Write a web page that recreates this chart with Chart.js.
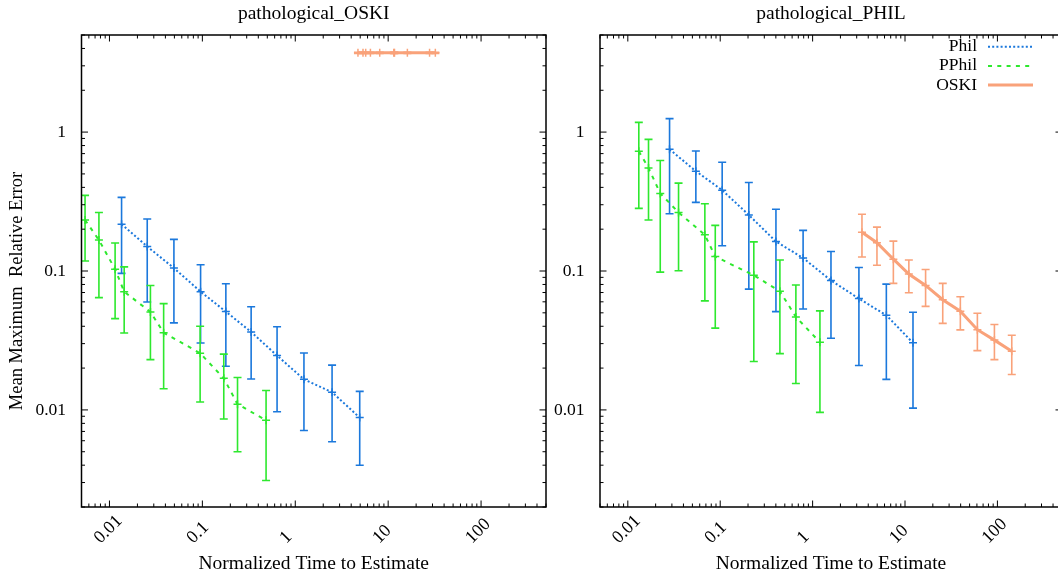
<!DOCTYPE html>
<html><head><meta charset="utf-8">
<script src="https://cdn.jsdelivr.net/npm/chart.js@4/dist/chart.umd.min.js"></script>
<style>
html,body{margin:0;padding:0;background:#fff;overflow:hidden;width:1058px;height:576px;}
.wrap{position:absolute;top:0;height:576px;width:560px;}
</style></head><body>
<div class="wrap" style="left:0"><canvas id="c1" width="560" height="576"></canvas></div>
<div class="wrap" style="left:520px"><canvas id="c2" width="560" height="576"></canvas></div>
<script>
// ---------- data ----------
const panelTitles = ['pathological_OSKI', 'pathological_PHIL'];
const seriesNames = ['Phil', 'PPhil', 'OSKI'];
const xTitle = 'Normalized Time to Estimate';
const yTitle = 'Mean Maximum  Relative Error';
const xTickValues = [0.01, 0.1, 1, 10, 100];
const xTickLabels = ['0.01', '0.1', '1', '10', '100'];
const yTickValues = [0.01, 0.1, 1];
const yTickLabels = ['0.01', '0.1', '1'];

// panel 1: pathological_OSKI
const oskiPhilX  = [0.0135, 0.0255, 0.0494, 0.0957, 0.179, 0.335, 0.637, 1.24, 2.49, 4.94];
const oskiPhilY  = [0.217, 0.150, 0.105, 0.071, 0.051, 0.0364, 0.0246, 0.0166, 0.0134, 0.0088];
const oskiPhilHi = [0.339, 0.237, 0.169, 0.111, 0.081, 0.0553, 0.0397, 0.0257, 0.021, 0.0136];
const oskiPhilLo = [0.0962, 0.0598, 0.0423, 0.0303, 0.0206, 0.0167, 0.0097, 0.0071, 0.0059, 0.0040];

const oskiPPhilX  = [0.00546, 0.0077, 0.0115, 0.0144, 0.0276, 0.0383, 0.0946, 0.170, 0.239, 0.485];
const oskiPPhilY  = [0.233, 0.167, 0.103, 0.071, 0.0507, 0.036, 0.0256, 0.0169, 0.011, 0.00843];
const oskiPPhilHi = [0.35, 0.264, 0.159, 0.107, 0.0787, 0.0582, 0.040, 0.0252, 0.0171, 0.0138];
const oskiPPhilLo = [0.118, 0.0643, 0.0454, 0.0358, 0.023, 0.0142, 0.0114, 0.0086, 0.0050, 0.0031];

const oskiOskiX  = [4.73, 5.36, 5.73, 6.44, 8.11, 11.5, 11.7, 16.1, 27.9, 32.2];
const oskiOskiY  = [3.72, 3.72, 3.72, 3.72, 3.72, 3.72, 3.72, 3.72, 3.72, 3.72];
const oskiOskiHi = [3.76, 3.76, 3.76, 3.76, 3.76, 3.76, 3.76, 3.76, 3.76, 3.76];
const oskiOskiLo = [3.68, 3.68, 3.68, 3.68, 3.68, 3.68, 3.68, 3.68, 3.68, 3.68];

// panel 2: pathological_PHIL
const philPhilX  = [0.0283, 0.0545, 0.105, 0.204, 0.401, 0.789, 1.58, 3.17, 6.28, 12.2];
const philPhilY  = [0.751, 0.523, 0.382, 0.253, 0.163, 0.124, 0.0855, 0.0633, 0.048, 0.0304];
const philPhilHi = [1.25, 0.731, 0.607, 0.434, 0.278, 0.196, 0.138, 0.106, 0.0805, 0.0505];
const philPhilLo = [0.258, 0.312, 0.152, 0.0741, 0.051, 0.0533, 0.0328, 0.0209, 0.0166, 0.0103];

const philPPhilX  = [0.01315, 0.01675, 0.02244, 0.0354, 0.0682, 0.0884, 0.231, 0.4425, 0.659, 1.2];
const philPPhilY  = [0.727, 0.552, 0.362, 0.264, 0.182, 0.127, 0.0931, 0.0715, 0.0467, 0.0307];
const philPPhilHi = [1.174, 0.886, 0.624, 0.429, 0.305, 0.213, 0.162, 0.120, 0.0792, 0.0516];
const philPPhilLo = [0.2825, 0.233, 0.0982, 0.1003, 0.0609, 0.0388, 0.0223, 0.0254, 0.0155, 0.0096];

const philOskiX  = [3.42, 4.97, 7.48, 11.0, 16.7, 25.6, 39.7, 60.7, 92.8, 143];
const philOskiY  = [0.19, 0.16, 0.1216, 0.095, 0.0787, 0.0621, 0.0513, 0.0378, 0.0318, 0.0264];
const philOskiHi = [0.256, 0.207, 0.164, 0.12, 0.1025, 0.0814, 0.0653, 0.0496, 0.0412, 0.0345];
const philOskiLo = [0.126, 0.110, 0.0815, 0.0698, 0.0556, 0.042, 0.0377, 0.0267, 0.023, 0.018];

// ---------- styling ----------
const FONT = "'Liberation Serif', 'Times New Roman', serif";
const COL = { Phil: '#1b78dc', PPhil: '#2ee82e', OSKI: '#f9a27a' };
const DASH = { Phil: [2, 2.2], PPhil: [4, 5.3], OSKI: [] };
const WIDTH = { Phil: 2, PPhil: 2, OSKI: 3 };

function makeDataset(name, xs, ys, lo, hi) {
  return {
    label: name,
    data: xs.map((x, i) => ({ x: x, y: ys[i] })),
    errLo: lo, errHi: hi,
    borderColor: COL[name], backgroundColor: COL[name],
    borderWidth: WIDTH[name], borderDash: DASH[name],
    pointStyle: 'cross', pointRadius: 4, pointBorderWidth: 1.5,
    pointBorderColor: COL[name], pointHoverRadius: 4,
    fill: false, tension: 0
  };
}

function minorLogValues(min, max) {
  const out = [];
  for (let e = Math.floor(Math.log10(min)); e <= Math.ceil(Math.log10(max)); e++) {
    for (let k = 1; k <= 9; k++) {
      const v = k * Math.pow(10, e);
      if (v >= min * 0.999 && v <= max * 1.001) out.push({ v: v, major: k === 1 });
    }
  }
  return out;
}

const framePlugin = {
  id: 'frame',
  beforeDatasetsDraw(chart) {
    const ctx = chart.ctx, xs = chart.scales.x, ys = chart.scales.y;
    ctx.save();
    chart.data.datasets.forEach(ds => {
      ctx.strokeStyle = ds.borderColor;
      ctx.lineWidth = 1.6;
      ctx.setLineDash([]);
      ds.data.forEach((p, i) => {
        const px = xs.getPixelForValue(p.x);
        const y1 = ys.getPixelForValue(ds.errLo[i]);
        const y2 = ys.getPixelForValue(ds.errHi[i]);
        ctx.beginPath();
        ctx.moveTo(px, y1); ctx.lineTo(px, y2);
        ctx.moveTo(px - 4, y1); ctx.lineTo(px + 4, y1);
        ctx.moveTo(px - 4, y2); ctx.lineTo(px + 4, y2);
        ctx.stroke();
      });
    });
    ctx.restore();
  },
  afterDraw(chart, args, opts) {
    const ctx = chart.ctx, a = chart.chartArea, xs = chart.scales.x, ys = chart.scales.y;
    ctx.save();
    ctx.setLineDash([]);
    ctx.strokeStyle = '#000';
    // border
    ctx.lineWidth = 1.5;
    ctx.strokeRect(a.left, a.top, a.right - a.left, a.bottom - a.top);
    // ticks
    ctx.lineWidth = 1;
    ctx.beginPath();
    minorLogValues(xs.min, xs.max).forEach(t => {
      const px = xs.getPixelForValue(t.v), L = t.major ? 6.5 : 3.5;
      ctx.moveTo(px, a.bottom); ctx.lineTo(px, a.bottom - L);
      ctx.moveTo(px, a.top); ctx.lineTo(px, a.top + L);
    });
    minorLogValues(ys.min, ys.max).forEach(t => {
      const py = ys.getPixelForValue(t.v), L = t.major ? 6.5 : 3.5;
      ctx.moveTo(a.left, py); ctx.lineTo(a.left + L, py);
      ctx.moveTo(a.right, py); ctx.lineTo(a.right - L, py);
    });
    ctx.stroke();
    // x tick labels, rotated 45 degrees
    ctx.fillStyle = '#000';
    ctx.font = '18px ' + FONT;
    ctx.textAlign = 'left';
    ctx.textBaseline = 'alphabetic';
    xTickValues.forEach((v, i) => {
      const px = xs.getPixelForValue(v);
      ctx.save();
      ctx.translate(px - 9, a.bottom + 37);
      ctx.rotate(-Math.PI / 4);
      ctx.fillText(xTickLabels[i], 0, 0);
      ctx.restore();
    });
    // y title
    if (opts.yTitle) {
      ctx.save();
      ctx.font = '18.5px ' + FONT;
      ctx.textAlign = 'center';
      ctx.textBaseline = 'middle';
      ctx.translate(opts.yTitleX, opts.yTitleY);
      ctx.rotate(-Math.PI / 2);
      ctx.fillText(opts.yTitle, 0, 0);
      ctx.restore();
    }
    // legend (inside plot, top right)
    if (opts.legend) {
      ctx.font = '17.5px ' + FONT;
      ctx.textAlign = 'right';
      ctx.textBaseline = 'middle';
      chart.data.datasets.forEach((ds, i) => {
        const y = opts.legendY + i * 19.2;
        ctx.fillStyle = '#000';
        ctx.fillText(ds.label, opts.legendX, y);
        ctx.strokeStyle = ds.borderColor;
        ctx.lineWidth = ds.borderWidth;
        ctx.setLineDash(ds.borderDash);
        ctx.beginPath();
        ctx.moveTo(opts.legendX + 11, y);
        ctx.lineTo(opts.legendX + 56, y);
        ctx.stroke();
      });
      ctx.setLineDash([]);
    }
    ctx.restore();
  }
};

function makeChart(id, title, datasets, yAxisWidth, padRight, frameOpts) {
  return new Chart(document.getElementById(id), {
    type: 'line',
    data: { datasets: datasets },
    options: {
      responsive: false, animation: false, devicePixelRatio: 1,
      layout: { padding: { left: 0, right: padRight, top: 0, bottom: 0 } },
      plugins: {
        legend: { display: false },
        tooltip: { enabled: false },
        title: {
          display: true, text: title, color: '#000', fullSize: false,
          font: { family: FONT, size: 19.5, weight: 'normal' },
          padding: { top: 2, bottom: 9.6 }
        },
        frame: frameOpts
      },
      scales: {
        x: {
          type: 'logarithmic', min: 0.005, max: 500, position: 'bottom',
          afterBuildTicks(s) { s.ticks = xTickValues.map(v => ({ value: v })); },
          afterFit(s) { s.height = 69; },
          ticks: { display: false },
          grid: { display: false, drawTicks: false },
          border: { display: false },
          title: {
            display: true, text: xTitle, color: '#000',
            font: { family: FONT, size: 19.5 }, padding: { top: 0, bottom: 0 }
          }
        },
        y: {
          type: 'logarithmic', min: 0.002, max: 5,
          afterBuildTicks(s) { s.ticks = yTickValues.map(v => ({ value: v })); },
          afterFit(s) { s.width = yAxisWidth; },
          ticks: {
            autoSkip: false, color: '#000', padding: 15.5,
            font: { family: FONT, size: 17.5 },
            callback: (v, i) => yTickLabels[i]
          },
          grid: { display: false, drawTicks: false },
          border: { display: false }
        }
      }
    },
    plugins: [framePlugin]
  });
}

makeChart('c1', panelTitles[0], [
  makeDataset('Phil', oskiPhilX, oskiPhilY, oskiPhilLo, oskiPhilHi),
  makeDataset('PPhil', oskiPPhilX, oskiPPhilY, oskiPPhilLo, oskiPPhilHi),
  makeDataset('OSKI', oskiOskiX, oskiOskiY, oskiOskiLo, oskiOskiHi)
], 81.5, 14, { yTitle: yTitle, yTitleX: 17.5, yTitleY: 291 });

makeChart('c2', panelTitles[1], [
  makeDataset('Phil', philPhilX, philPhilY, philPhilLo, philPhilHi),
  makeDataset('PPhil', philPPhilX, philPPhilY, philPPhilLo, philPPhilHi),
  makeDataset('OSKI', philOskiX, philOskiY, philOskiLo, philOskiHi)
], 80, 18, { legend: true, legendX: 457, legendY: 46.7 });
</script>
</body></html>
